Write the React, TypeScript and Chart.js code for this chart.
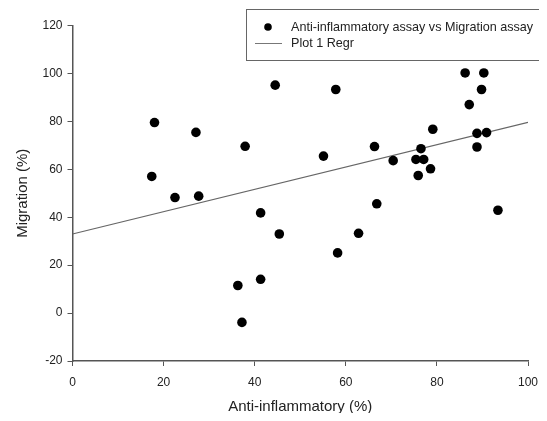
import React, { useEffect, useRef } from "react";
import { Chart, registerables } from "chart.js";

Chart.register(...registerables);

const antiInflammatory = [
  44.5, 18.0, 27.1, 37.9, 17.4, 22.5, 27.7, 41.3, 45.4, 36.3, 41.3, 37.2,
  57.8, 86.2, 90.3, 89.8, 87.1, 79.1, 88.8, 90.9, 66.3, 88.8, 55.1, 76.5,
  70.4, 75.4, 77.1, 78.6, 75.9, 66.8, 93.4, 62.8, 58.2,
];
const migration = [
  95.1, 79.5, 75.4, 69.6, 57.0, 48.2, 48.8, 41.8, 33.0, 11.5, 14.1, -3.9,
  93.3, 100.2, 100.2, 93.3, 87.0, 76.7, 75.0, 75.3, 69.5, 69.3, 65.5, 68.6,
  63.6, 64.1, 64.1, 60.2, 57.4, 45.6, 42.9, 33.3, 25.1,
];
const regrX = [0, 100];
const regrY = [33.0, 79.6];
const xTicks = [0, 20, 40, 60, 80, 100];
const yTicks = [-20, 0, 20, 40, 60, 80, 100, 120];
const seriesNames = ["Anti-inflammatory assay vs Migration assay", "Plot 1 Regr"];

const FONT = "'Liberation Sans', Arial, sans-serif";
const AXIS_COLOR = "#555555";
const TEXT_COLOR = "#222222";

const legendPlugin = {
  id: "boxLegend",
  afterDraw(chart: any) {
    const ctx = chart.ctx;
    ctx.save();
    const x0 = 238.5, y0 = 1.5, x1 = 545.5, y1 = 52.5;
    ctx.fillStyle = "#ffffff";
    ctx.fillRect(x0, y0, x1 - x0, y1 - y0);
    ctx.strokeStyle = "#666666";
    ctx.lineWidth = 1;
    ctx.strokeRect(x0, y0, x1 - x0, y1 - y0);
    ctx.font = `12.6px ${FONT}`;
    ctx.textBaseline = "middle";
    ctx.textAlign = "left";
    ctx.beginPath();
    ctx.fillStyle = "#000000";
    ctx.arc(260, 19, 3.8, 0, Math.PI * 2);
    ctx.fill();
    ctx.fillStyle = TEXT_COLOR;
    ctx.fillText(seriesNames[0], 283, 19.5);
    ctx.beginPath();
    ctx.strokeStyle = "#777777";
    ctx.moveTo(247, 35.5);
    ctx.lineTo(274, 35.5);
    ctx.stroke();
    ctx.fillText(seriesNames[1], 283, 36);
    ctx.restore();
  },
};

export default function App() {
  const ref = useRef<HTMLCanvasElement | null>(null);

  useEffect(() => {
    if (!ref.current) return;
    const scatterData = antiInflammatory.map((x, i) => ({ x, y: migration[i] }));
    const lineData = regrX.map((x, i) => ({ x, y: regrY[i] }));
    const chart = new Chart(ref.current, {
      type: "scatter",
      data: {
        datasets: [
          {
            label: seriesNames[0],
            data: scatterData,
            backgroundColor: "#000000",
            borderColor: "#000000",
            pointRadius: 4.8,
            borderWidth: 0,
          },
          {
            label: seriesNames[1],
            type: "line",
            data: lineData,
            borderColor: "#666666",
            borderWidth: 1.2,
            pointRadius: 0,
            showLine: true,
            fill: false,
          } as any,
        ],
      },
      plugins: [legendPlugin],
      options: {
        animation: false,
        responsive: false,
        maintainAspectRatio: false,
        devicePixelRatio: 1,
        layout: { padding: { left: 0, right: 11, top: 17.5, bottom: 0 } },
        plugins: {
          legend: { display: false },
          tooltip: { enabled: false },
        },
        scales: {
          x: {
            type: "linear",
            min: 0,
            max: 100,
            afterFit: (s: any) => { s.height = 52; s.paddingLeft = 0; s.paddingRight = 0; },
            afterBuildTicks: (s: any) => { s.ticks = xTicks.map((v) => ({ value: v })); },
            grid: { display: true, drawOnChartArea: false, drawTicks: true, tickLength: 5, color: AXIS_COLOR, lineWidth: 1 },
            border: { display: true, color: AXIS_COLOR, width: 1.5 },
            ticks: { color: TEXT_COLOR, font: { family: FONT, size: 12 }, padding: 9, maxRotation: 0 },
            title: {
              display: true,
              text: "Anti-inflammatory (%)",
              color: TEXT_COLOR,
              font: { family: FONT, size: 15, lineHeight: 0.8 },
              padding: { top: 0, bottom: 0 },
            },
          },
          y: {
            type: "linear",
            min: -20,
            max: 120,
            afterFit: (s: any) => { s.width = 64.5; s.paddingTop = 0; s.paddingBottom = 0; },
            afterBuildTicks: (s: any) => { s.ticks = yTicks.map((v) => ({ value: v })); },
            grid: { display: true, drawOnChartArea: false, drawTicks: true, tickLength: 5, color: AXIS_COLOR, lineWidth: 1 },
            border: { display: true, color: AXIS_COLOR, width: 1.5 },
            ticks: { color: TEXT_COLOR, font: { family: FONT, size: 12 }, padding: 5 },
            title: {
              display: true,
              text: "Migration (%)",
              color: TEXT_COLOR,
              font: { family: FONT, size: 15 },
              padding: { top: 5.5, bottom: 0 },
            },
          },
        },
      },
    });
    return () => chart.destroy();
  }, []);

  return (
    <div style={{ width: 531, height: 405, position: "relative", background: "#fff" }}>
      <canvas ref={ref} width={531} height={405} style={{ display: "block", width: 531, height: 405 }} />
    </div>
  );
}
